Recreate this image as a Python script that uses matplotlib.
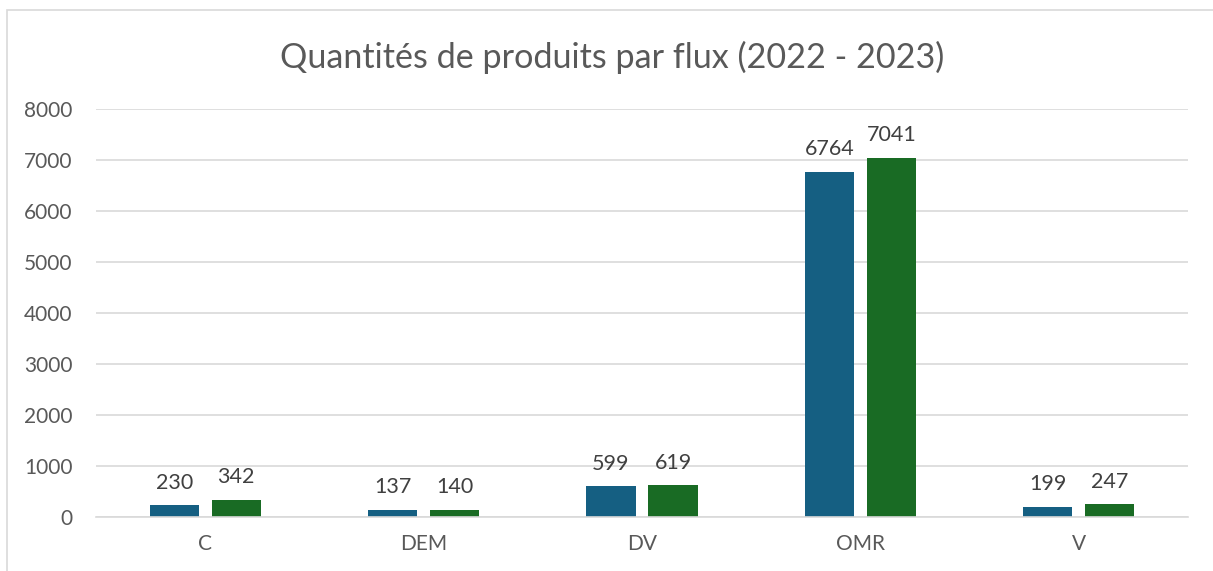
import numpy as np
import matplotlib.pyplot as plt
from matplotlib.patches import Rectangle

plt.rcParams['font.family'] = ['Lato', 'DejaVu Sans']

# --- data
flux = ['C', 'DEM', 'DV', 'OMR', 'V']
q2022 = [230, 137, 599, 6764, 199]
q2023 = [342, 140, 619, 7041, 247]

blue = '#155F82'
green = '#196B24'
txt = '#595959'

fig = plt.figure(figsize=(12.13, 5.71), dpi=100)
ax = fig.add_axes([96 / 1213, 1 - 517 / 571, (1188 - 96) / 1213, (517 - 109) / 571])

# chart border (left and top visible)
fig.add_artist(Rectangle((7 / 1213, -0.1), 1.2, 1 - 10 / 571 + 0.1,
                         transform=fig.transFigure, fill=False,
                         edgecolor='#D9D9D9', linewidth=1.2))

x = np.arange(len(flux))
w = 0.225
off = 0.142
b1 = ax.bar(x - off, q2022, w, color=blue)
b2 = ax.bar(x + off, q2023, w, color=green)

for bars in (b1, b2):
    for b in bars:
        ax.text(b.get_x() + b.get_width() / 2, b.get_height() + 250,
                str(int(b.get_height())), ha='center', va='bottom',
                fontsize=15.5, color='#404040')

ax.set_xlim(-0.5, len(flux) - 0.5)
ax.set_ylim(0, 8000)
ax.set_yticks(range(0, 8001, 1000))
ax.set_xticks(x)
ax.set_xticklabels(flux)
ax.tick_params(axis='both', length=0, labelsize=15, colors=txt)
ax.tick_params(axis='y', pad=17)
ax.tick_params(axis='x', pad=12.5)
ax.grid(axis='y', color='#D9D9D9', linewidth=1.2)
ax.set_axisbelow(True)
for s in ['top', 'right', 'left']:
    ax.spines[s].set_visible(False)
ax.spines['bottom'].set_color('#D9D9D9')
ax.spines['bottom'].set_linewidth(1.2)

fig.text(612 / 1213, 1 - 57 / 571, 'Quantités de produits par flux (2022 - 2023)',
         ha='center', va='center', fontsize=24.6, color=txt)

plt.savefig('out.png', dpi=100)
